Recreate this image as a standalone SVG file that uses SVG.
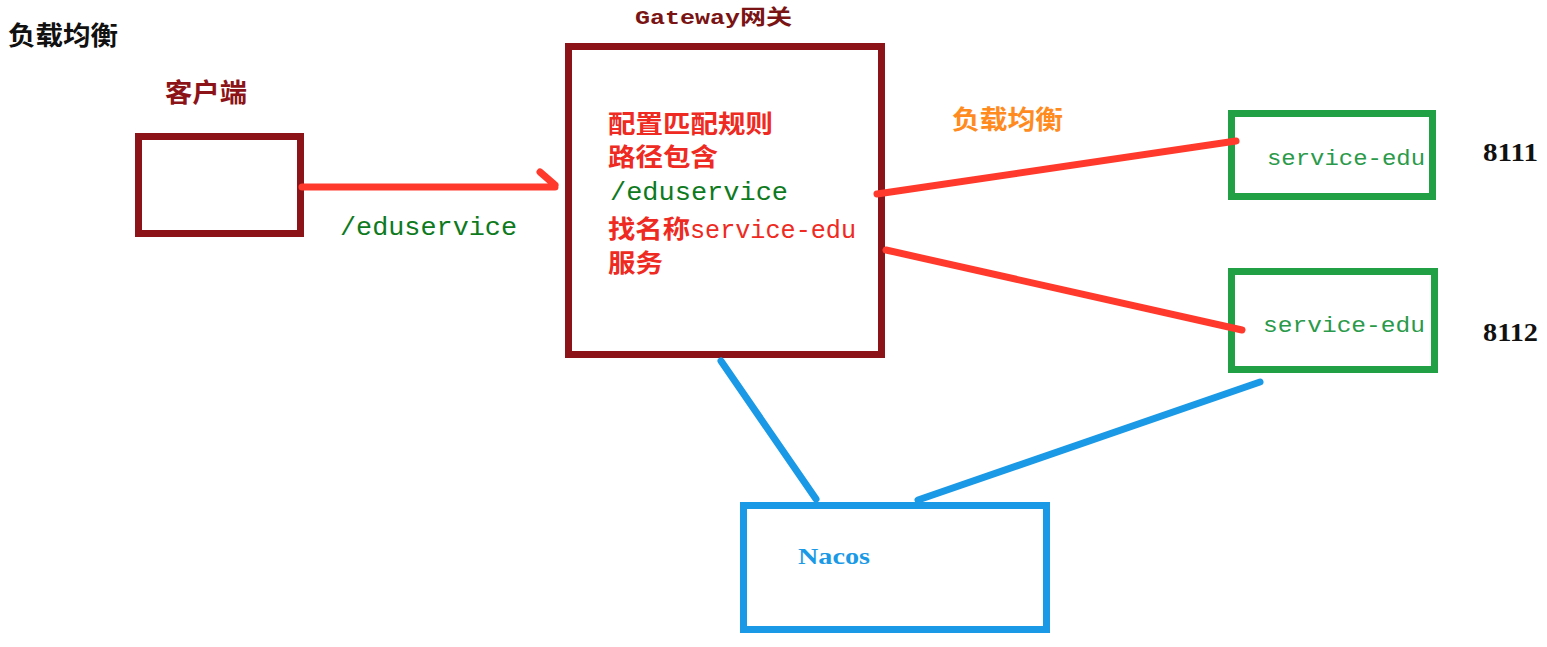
<svg xmlns="http://www.w3.org/2000/svg" width="1547" height="647" viewBox="0 0 1547 647">
<style>
.cjk{font-family:"Noto Sans CJK SC","Noto Sans",sans-serif;font-weight:bold}
.mono{font-family:"Liberation Mono","DejaVu Sans Mono",monospace}
.box{fill:none;stroke-width:7}
.red{stroke:#ff3a2c;stroke-width:7;stroke-linecap:round;fill:none}
.blue{stroke:#1a9ae6;stroke-width:7;stroke-linecap:round;fill:none}
.num{font-family:"Liberation Serif",serif;font-weight:bold;font-size:25px;fill:#111}
</style>
<rect width="1547" height="647" fill="#ffffff"/>
<text class="cjk" x="8" y="45" font-size="26" fill="#111" textLength="110" lengthAdjust="spacingAndGlyphs">负载均衡</text>
<g id="client">
<rect class="box" x="138.5" y="136.5" width="162" height="97" stroke="#8c1418"/>
<text class="cjk" x="165" y="102" font-size="26" fill="#8c1418" textLength="82" lengthAdjust="spacingAndGlyphs">客户端</text>
</g>
<g id="gateway">
<rect class="box" x="568.5" y="46.5" width="313" height="308" stroke="#8c1418"/>
<text x="635" y="24" font-size="21" fill="#7a1414"><tspan class="mono" font-weight="bold" textLength="105" lengthAdjust="spacingAndGlyphs">Gateway</tspan><tspan class="cjk" font-size="21" textLength="52" lengthAdjust="spacingAndGlyphs">网关</tspan></text>
<text class="cjk" x="608" y="133" font-size="25" fill="#ee2a22" textLength="165" lengthAdjust="spacingAndGlyphs">配置匹配规则</text>
<text class="cjk" x="608" y="166" font-size="25" fill="#ee2a22" textLength="110" lengthAdjust="spacingAndGlyphs">路径包含</text>
<text class="mono" x="610" y="200" font-size="26" fill="#0e7a1e" textLength="178" lengthAdjust="spacingAndGlyphs">/eduservice</text>
<text x="608" y="238" font-size="25" fill="#ee2a22"><tspan class="cjk" textLength="82" lengthAdjust="spacingAndGlyphs">找名称</tspan><tspan class="mono" font-size="26" textLength="166" lengthAdjust="spacingAndGlyphs">service-edu</tspan></text>
<text class="cjk" x="608" y="272" font-size="25" fill="#ee2a22" textLength="55" lengthAdjust="spacingAndGlyphs">服务</text>
</g>
<g id="service1">
<rect class="box" x="1231.5" y="113.5" width="201" height="83" stroke="#22a046"/>
<text class="mono" x="1267" y="165" font-size="22" fill="#2a9a4a" textLength="158" lengthAdjust="spacingAndGlyphs">service-edu</text>
<text class="num" x="1483" y="161" textLength="55" lengthAdjust="spacingAndGlyphs">8111</text>
</g>
<g id="service2">
<rect class="box" x="1231.5" y="271.5" width="203" height="98" stroke="#22a046"/>
<text class="mono" x="1263" y="332" font-size="22" fill="#2a9a4a" textLength="162" lengthAdjust="spacingAndGlyphs">service-edu</text>
<text class="num" x="1483" y="341" textLength="55" lengthAdjust="spacingAndGlyphs">8112</text>
</g>
<g id="nacos">
<rect class="box" x="743.5" y="505.5" width="303" height="124" stroke="#1a9ae6"/>
<text x="798" y="564" font-size="24" fill="#1a9ae6" font-family="Liberation Serif, serif" font-weight="bold" textLength="72" lengthAdjust="spacingAndGlyphs">Nacos</text>
</g>
<g id="connectors">
<path class="red" d="M302,187 L555,187 M540,172 L555,185"/>
<text class="mono" x="340" y="235" font-size="25" fill="#0e7a1e" textLength="177" lengthAdjust="spacingAndGlyphs">/eduservice</text>
<text class="cjk" x="952" y="129" font-size="26" fill="#ff8a1e" textLength="111" lengthAdjust="spacingAndGlyphs">负载均衡</text>
<path class="red" d="M877,194 L1236,141"/>
<path class="red" d="M886,250 L1242,330"/>
<path class="blue" d="M721,361 L816,499"/>
<path class="blue" d="M1260,382 L918,500"/>
</g>
</svg>
